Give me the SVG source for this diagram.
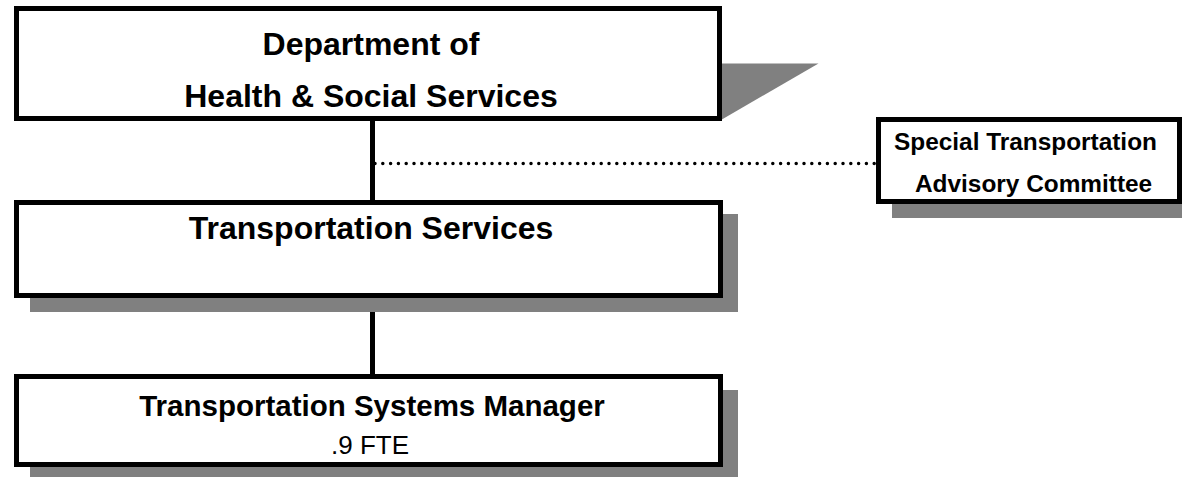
<svg xmlns="http://www.w3.org/2000/svg" width="1182" height="477" viewBox="0 0 1182 477">
<style>
.box{fill:#fff;stroke:#000;stroke-width:5}
.sh{fill:#808080}
.t{font-family:"Liberation Sans",Arial,sans-serif;font-weight:bold;fill:#000}
.r{font-family:"Liberation Sans",Arial,sans-serif;fill:#000}
.ln{stroke:#000;stroke-width:5;fill:none}
.dot{stroke:#000;stroke-width:3.5;stroke-linecap:round;stroke-dasharray:0 7.8;fill:none}
</style>
<rect width="1182" height="477" fill="#fff"/>
<g id="connectors">
<line class="ln" x1="372.5" y1="118" x2="372.5" y2="203"/>
<line class="ln" x1="372.5" y1="294" x2="372.5" y2="378"/>
<line class="dot" x1="375" y1="163.5" x2="876" y2="163.5"/>
</g>
<g id="dhss">
<polygon class="sh" points="721,63.5 818.5,63.5 721,120"/>
<rect class="box" x="16.5" y="8.5" width="703" height="110"/>
<text class="t" x="371" y="55" font-size="32" text-anchor="middle">Department of</text>
<text class="t" x="371" y="107" font-size="32" text-anchor="middle">Health &amp; Social Services</text>
</g>
<g id="stac">
<rect class="sh" x="892" y="133" width="300" height="85"/>
<rect class="box" x="878.5" y="119.5" width="301" height="82"/>
<text class="t" x="894" y="150" font-size="24.4">Special Transportation</text>
<text class="t" x="915" y="192" font-size="24.4">Advisory Committee</text>
</g>
<g id="ts">
<rect class="sh" x="30" y="214" width="708" height="98"/>
<rect class="box" x="16.5" y="202.5" width="704" height="93"/>
<text class="t" x="371" y="239" font-size="32" text-anchor="middle">Transportation Services</text>
</g>
<g id="tsm">
<rect class="sh" x="30" y="390" width="708" height="92"/>
<rect class="box" x="16.5" y="376.5" width="704" height="88"/>
<text class="t" x="372" y="416" font-size="29.5" text-anchor="middle">Transportation Systems Manager</text>
<text class="r" x="370" y="454" font-size="26" text-anchor="middle">.9 FTE</text>
</g>
</svg>
